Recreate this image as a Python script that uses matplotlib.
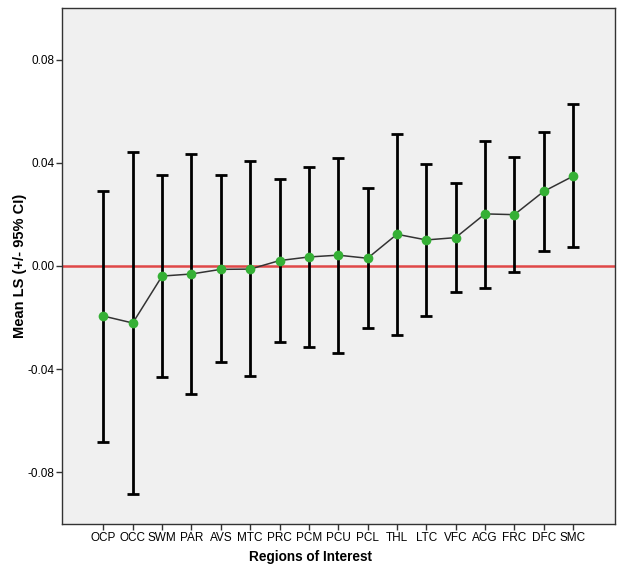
import matplotlib
matplotlib.use('Agg')
import matplotlib.pyplot as plt
import numpy as np

regions = ['OCP', 'OCC', 'SWM', 'PAR', 'AVS', 'MTC', 'PRC', 'PCM', 'PCU',
           'PCL', 'THL', 'LTC', 'VFC', 'ACG', 'FRC', 'DFC', 'SMC']
mean_ls = [-0.0194, -0.0221, -0.0039, -0.0031, -0.0013, -0.0012, 0.0021, 0.0035, 0.0042,
           0.0030, 0.0123, 0.0101, 0.0110, 0.0202, 0.0199, 0.0289, 0.0348]
ci_upper = [0.0289, 0.0443, 0.0351, 0.0435, 0.0351, 0.0408, 0.0337, 0.0382, 0.0419,
            0.0303, 0.0511, 0.0397, 0.0320, 0.0485, 0.0422, 0.0521, 0.0626]
ci_lower = [-0.0682, -0.0884, -0.0432, -0.0498, -0.0373, -0.0428, -0.0296, -0.0315, -0.0338,
            -0.0242, -0.0267, -0.0193, -0.0101, -0.0084, -0.0025, 0.0057, 0.0075]

plt.rcParams['font.family'] = ['Liberation Sans', 'DejaVu Sans']

fig = plt.figure(figsize=(6.22, 5.70), dpi=100)
ax = fig.add_axes([62 / 622, 1 - 524 / 570, (615 - 62) / 622, (524 - 8) / 570])
ax.set_facecolor('#f0f0f0')

x = np.arange(len(regions))
mean = np.array(mean_ls)
yerr = [mean - np.array(ci_lower), np.array(ci_upper) - mean]

ax.axhline(0, color='#e04848', linewidth=1.8, zorder=1)
ax.errorbar(x, mean, yerr=yerr, fmt='none', ecolor='black', elinewidth=2,
            capsize=4, capthick=2, zorder=2)
ax.plot(x, mean, color='#333333', linewidth=1.1, zorder=3)
ax.plot(x, mean, 'o', color='#35b035', markersize=7, markeredgewidth=0, zorder=4)

ax.set_xlim(-1.41, 17.43)
ax.set_ylim(-0.1, 0.1)
ax.set_yticks([-0.08, -0.04, 0.0, 0.04, 0.08])
ax.set_yticklabels(['-0.08', '-0.04', '0.00', '0.04', '0.08'])
ax.set_xticks(x)
ax.set_xticklabels(regions)
ax.tick_params(axis='both', labelsize=8.5, length=4, width=1, color='#333333', pad=1.5)

for s in ax.spines.values():
    s.set_color('#333333')
    s.set_linewidth(1)

ax.set_xlabel('Regions of Interest', fontsize=9.8, fontweight='bold', labelpad=4)
ax.xaxis.set_label_coords(0.449, -0.05, transform=ax.transAxes)
ax.xaxis.label.set_va('top')
ax.set_ylabel('Mean LS (+/- 95% CI)', fontsize=10.5, fontweight='bold')
ax.yaxis.set_label_coords(-0.064, 0.5, transform=ax.transAxes)

fig.savefig('out.png', dpi=100)
